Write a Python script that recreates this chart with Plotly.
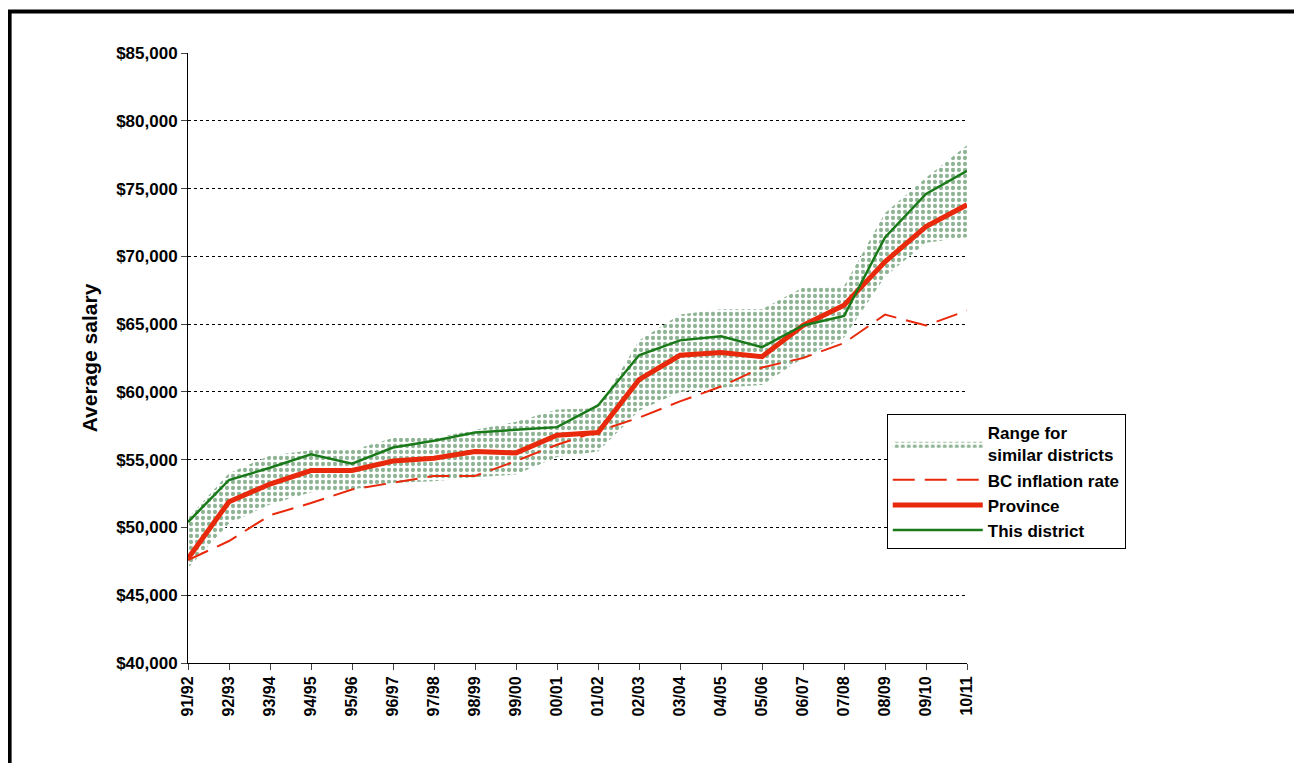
import plotly.graph_objects as go

years = ["91/92", "92/93", "93/94", "94/95", "95/96", "96/97", "97/98", "98/99", "99/00", "00/01",
         "01/02", "02/03", "03/04", "04/05", "05/06", "06/07", "07/08", "08/09", "09/10", "10/11"]
district = [50400, 53500, 54400, 55400, 54700, 55900, 56400, 57000, 57200, 57400,
            59000, 62700, 63800, 64100, 63300, 64900, 65600, 71400, 74600, 76300]
province = [47700, 51900, 53200, 54200, 54200, 54900, 55100, 55600, 55500, 56800,
            57000, 60900, 62700, 62900, 62600, 64900, 66400, 69600, 72200, 73800]
inflation = [47600, 49000, 50900, 51800, 52800, 53300, 53800, 53800, 54900, 56100,
             57100, 58100, 59300, 60400, 61800, 62500, 63600, 65700, 64900, 66000]
range_low = [47000, 50300, 51700, 52600, 52800, 53300, 53400, 53700, 53900, 55200,
             55600, 58600, 60000, 60300, 60500, 62500, 64000, 68500, 71000, 71400]
range_high = [50700, 54000, 55300, 55700, 55700, 56600, 56600, 57200, 57800, 58700,
              58800, 63800, 65700, 66100, 66100, 67700, 67800, 73200, 75800, 78200]

green = "#1a7a1a"
red = "#e8290b"

fig = go.Figure()
fig.add_trace(go.Scatter(x=years, y=range_low, mode="lines", line=dict(width=0),
                         showlegend=False, hoverinfo="skip"))
fig.add_trace(go.Scatter(x=years, y=range_high, mode="lines", line=dict(width=0),
                         fill="tonexty", fillcolor="rgba(0,0,0,0)",
                         fillpattern=dict(shape=".", fgcolor="#1f6a2c", bgcolor="white",
                                          size=6, solidity=0.4),
                         name="<b>Range for<br>similar districts</b>"))
fig.add_trace(go.Scatter(x=years, y=inflation, mode="lines",
                         line=dict(color=red, width=2, dash="22px,10px"),
                         name="<b>BC inflation rate</b>"))
fig.add_trace(go.Scatter(x=years, y=province, mode="lines",
                         line=dict(color=red, width=5), name="<b>Province</b>"))
fig.add_trace(go.Scatter(x=years, y=district, mode="lines",
                         line=dict(color=green, width=2.5), name="<b>This district</b>"))

fig.update_layout(
    width=1294, height=755,
    margin=dict(l=180, r=335, t=45, b=100),
    paper_bgcolor="white", plot_bgcolor="white",
    font=dict(family="Liberation Sans", size=16, color="black"),
    showlegend=True,
    legend=dict(x=0.897, y=0.408, xanchor="left", yanchor="top", traceorder="normal",
                bordercolor="black", borderwidth=1, bgcolor="white",
                font=dict(size=17, family="Liberation Sans"), itemwidth=90,
                tracegroupgap=10),
    shapes=[dict(type="rect", xref="paper", yref="paper", x0=-0.229, x1=1.427,
                 y0=-0.3, y1=1.068, line=dict(color="black", width=4))],
)
fig.update_xaxes(type="category", range=[0, 19], showline=True, linecolor="black",
                 ticks="outside", ticklen=6, tickangle=-90, showgrid=False,
                 tickfont=dict(size=16), tickprefix="<b>", ticksuffix="</b>")
fig.update_yaxes(range=[40000, 85000], dtick=5000, tickformat="$,", showline=True,
                 linecolor="black", ticks="outside", ticklen=6, showgrid=True,
                 gridcolor="black", griddash="dot", gridwidth=1,
                 tickfont=dict(size=17), tickprefix="<b>", ticksuffix="</b>",
                 title=dict(text="<b>Average salary</b>", font=dict(size=21), standoff=12))
fig.write_html("out.html")
